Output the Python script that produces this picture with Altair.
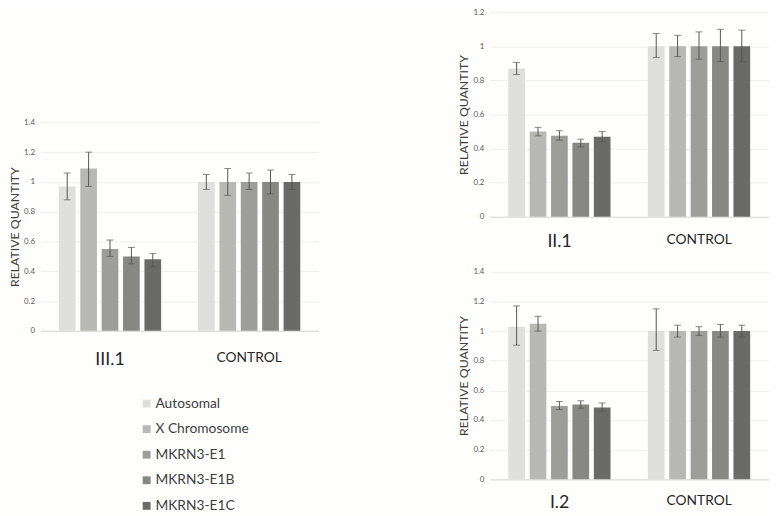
import altair as alt
import pandas as pd

series = ["Autosomal", "X Chromosome", "MKRN3-E1", "MKRN3-E1B", "MKRN3-E1C"]
colors = ["#dfe0dd", "#b8b9b5", "#9d9e9a", "#878884", "#6a6a68"]

# Panel III.1 (left)
p3_groups = ["III.1", "Control"]
p3_vals = [[0.97, 1.09, 0.55, 0.50, 0.48], [1.0, 1.0, 1.0, 1.0, 1.0]]
p3_lo = [[0.88, 0.97, 0.50, 0.45, 0.43], [0.95, 0.91, 0.95, 0.92, 0.95]]
p3_hi = [[1.06, 1.20, 0.61, 0.56, 0.52], [1.05, 1.09, 1.06, 1.08, 1.05]]

# Panel II.1 (top right)
p2_groups = ["II.1", "Control"]
p2_vals = [[0.87, 0.50, 0.475, 0.435, 0.47], [1.0, 1.0, 1.0, 1.0, 1.0]]
p2_lo = [[0.835, 0.475, 0.45, 0.41, 0.44], [0.935, 0.94, 0.925, 0.91, 0.91]]
p2_hi = [[0.905, 0.525, 0.505, 0.455, 0.50], [1.075, 1.065, 1.085, 1.10, 1.095]]

# Panel I.2 (bottom right)
p1_groups = ["I.2", "Control"]
p1_vals = [[1.03, 1.05, 0.495, 0.505, 0.485], [1.0, 1.0, 1.0, 1.0, 1.0]]
p1_lo = [[0.905, 1.00, 0.47, 0.48, 0.46], [0.87, 0.96, 0.97, 0.96, 0.96]]
p1_hi = [[1.17, 1.10, 0.525, 0.53, 0.515], [1.15, 1.04, 1.03, 1.045, 1.04]]

FONT = "Lato"


def make_df(groups, vals, lo, hi):
    rows = []
    for gi, g in enumerate(groups):
        for si, s in enumerate(series):
            rows.append({"group": g, "series": s, "value": vals[gi][si],
                         "lo": lo[gi][si], "hi": hi[gi][si]})
    return pd.DataFrame(rows)


def panel(groups, vals, lo, hi, ymax, width, height, label_pad, legend=None):
    df = make_df(groups, vals, lo, hi)
    xaxis = alt.Axis(labelExpr="upper(datum.label)", labelAngle=0,
                     ticks=False, domainColor="#d9d9d9", labelColor="#262626",
                     labelFont=FONT, labelPadding=label_pad,
                     labelFontSize={"expr": "datum.value == 'Control' ? 14 : 18"})
    xscale = alt.Scale(paddingInner=0.265, paddingOuter=0.1325)
    xoff = alt.XOffset("series:N", sort=series,
                       scale=alt.Scale(paddingInner=0.22, paddingOuter=0))
    yscale = alt.Scale(domain=[0, ymax])
    yaxis = alt.Axis(values=[round(i * 0.2, 1) for i in range(int(round(ymax / 0.2)) + 1)],
                     format="~g", domain=False, ticks=False, gridColor="#efefef",
                     labelColor="#595959", labelFontSize=8, labelFont=FONT,
                     labelPadding=6, titleFont=FONT,
                     titleFontSize=12.5, titleFontWeight="normal", titleColor="#404040",
                     titlePadding=2)
    color = alt.Color("series:N", sort=series,
                      scale=alt.Scale(domain=series, range=colors),
                      legend=legend)
    bars = alt.Chart(df).mark_bar().encode(
        x=alt.X("group:N", sort=groups, title=None, scale=xscale, axis=xaxis),
        xOffset=xoff,
        y=alt.Y("value:Q", scale=yscale, axis=yaxis, title="RELATIVE QUANTITY"),
        color=color)
    err = alt.Chart(df).mark_errorbar(ticks=alt.MarkConfig(size=7, color="#555555"),
                                      color="#555555", thickness=1).encode(
        x=alt.X("group:N", sort=groups, title=None, scale=xscale, axis=xaxis),
        xOffset=xoff,
        y=alt.Y("lo:Q", scale=yscale, axis=yaxis, title="RELATIVE QUANTITY"),
        y2="hi:Q")
    return alt.layer(bars, err).properties(width=width, height=height)


legend = alt.Legend(title=None, orient="none", legendX=101, legendY=391,
                    symbolType="square", symbolSize=64, symbolStrokeWidth=0,
                    labelFont=FONT, labelFontSize=14, labelColor="#404040",
                    labelOffset=2, rowPadding=12, padding=0)

left = panel(p3_groups, p3_vals, p3_lo, p3_hi, 1.4, 283, 212, 20, legend=legend)
top_right = panel(p2_groups, p2_vals, p2_lo, p2_hi, 1.2, 284, 208, 16)
bottom_right = panel(p1_groups, p1_vals, p1_lo, p1_hi, 1.4, 284, 211, 15)

spacer = alt.Chart(pd.DataFrame({"v": [0]})).mark_point(opacity=0).encode(
    x=alt.value(0), y=alt.value(0)).properties(width=10, height=108)

left_col = alt.vconcat(spacer, left, spacing=0)
right_col = alt.vconcat(top_right, bottom_right, spacing=18)

chart = alt.hconcat(left_col, right_col, spacing=141).resolve_scale(
    color="independent").resolve_legend(color="independent").properties(
    padding={"top": -4, "left": 0, "right": 0, "bottom": 0},
    background="#fefefd").configure_view(stroke=None)

chart.save("out.html", embed_options={"renderer": "svg", "actions": False})
